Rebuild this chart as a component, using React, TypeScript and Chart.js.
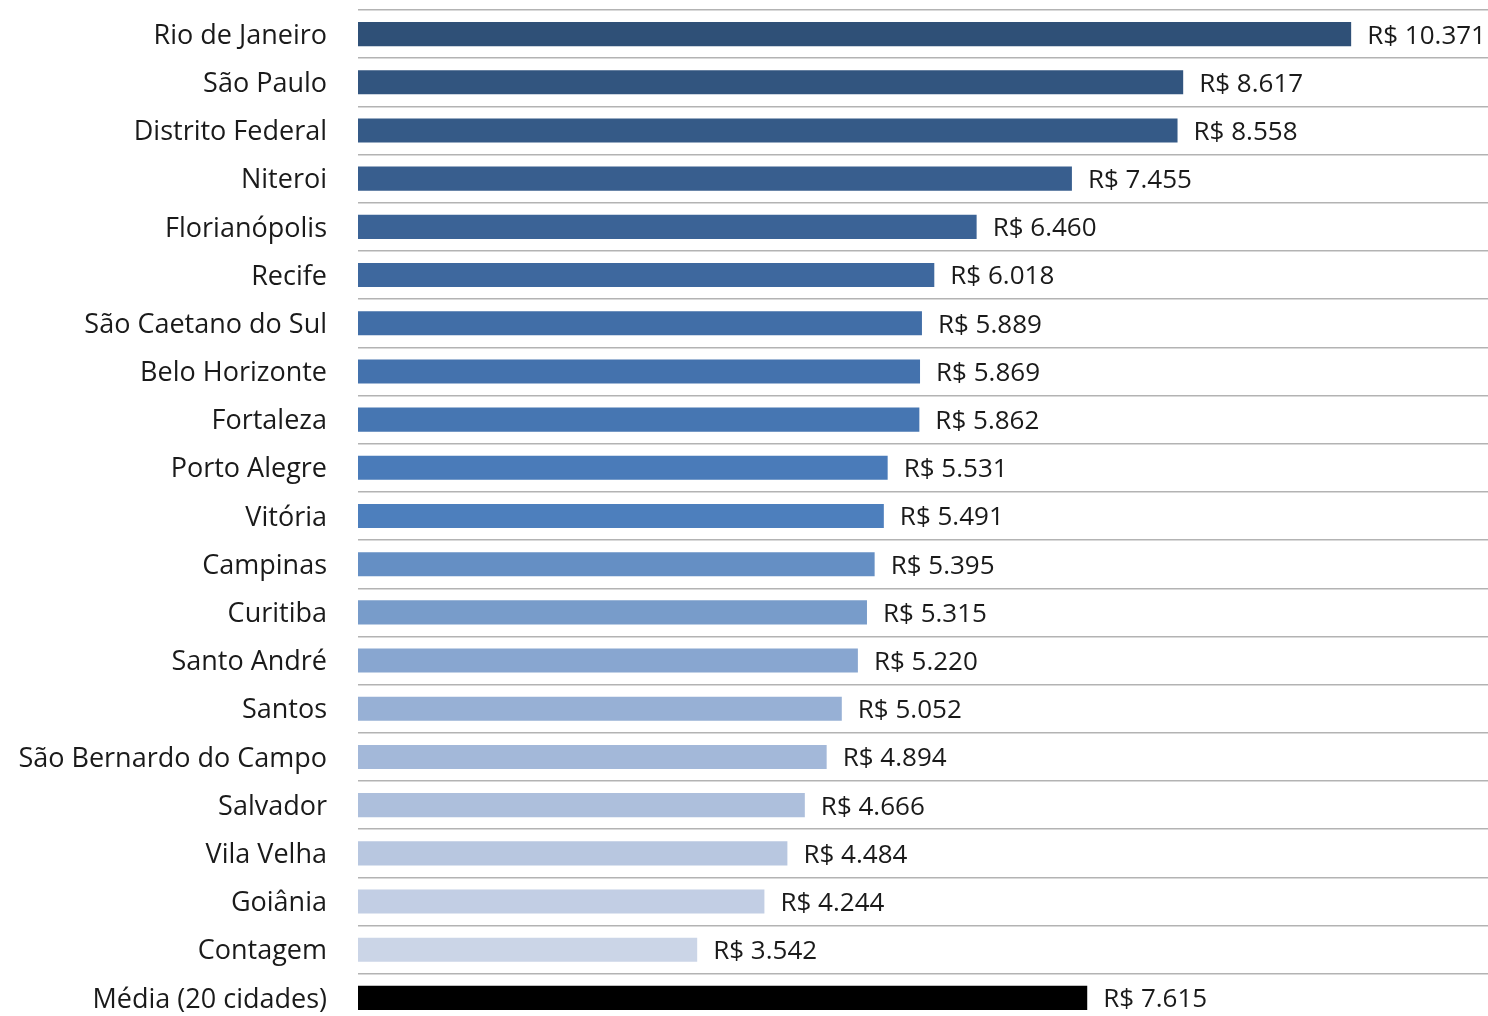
import React, { useEffect, useRef } from "react";
import { Chart, registerables } from "chart.js";

Chart.register(...registerables);

const cities = [
  "Rio de Janeiro",
  "São Paulo",
  "Distrito Federal",
  "Niteroi",
  "Florianópolis",
  "Recife",
  "São Caetano do Sul",
  "Belo Horizonte",
  "Fortaleza",
  "Porto Alegre",
  "Vitória",
  "Campinas",
  "Curitiba",
  "Santo André",
  "Santos",
  "São Bernardo do Campo",
  "Salvador",
  "Vila Velha",
  "Goiânia",
  "Contagem",
  "Média (20 cidades)",
];

const values = [
  10371, 8617, 8558, 7455, 6460, 6018, 5889, 5869, 5862, 5531, 5491, 5395, 5315,
  5220, 5052, 4894, 4666, 4484, 4244, 3542, 7615,
];

const valueLabels = [
  "R$ 10.371",
  "R$ 8.617",
  "R$ 8.558",
  "R$ 7.455",
  "R$ 6.460",
  "R$ 6.018",
  "R$ 5.889",
  "R$ 5.869",
  "R$ 5.862",
  "R$ 5.531",
  "R$ 5.491",
  "R$ 5.395",
  "R$ 5.315",
  "R$ 5.220",
  "R$ 5.052",
  "R$ 4.894",
  "R$ 4.666",
  "R$ 4.484",
  "R$ 4.244",
  "R$ 3.542",
  "R$ 7.615",
];

const barColors = [
  "#2f5077",
  "#32557f",
  "#355a87",
  "#385e8e",
  "#3b6396",
  "#3e689e",
  "#416ea7",
  "#4472ad",
  "#4676b2",
  "#4a7bb9",
  "#4d7fbd",
  "#658fc4",
  "#789cca",
  "#88a6d0",
  "#97b0d5",
  "#a3b8d9",
  "#adbfdc",
  "#b8c7e0",
  "#c2cee4",
  "#cbd5e7",
  "#000000",
];

const FONT = "'Open Sans', 'Noto Sans', sans-serif";
const FONT_SIZE = 27;
const VALUE_FONT_SIZE = 26;

export default function App() {
  const ref = useRef<HTMLCanvasElement | null>(null);

  useEffect(() => {
    if (!ref.current) return;
    const labelPlugin = {
      id: "valueLabels",
      afterDatasetsDraw(chart: any) {
        const ctx = chart.ctx;
        const meta = chart.getDatasetMeta(0);
        ctx.save();
        ctx.font = `${VALUE_FONT_SIZE}px ${FONT}`;
        ctx.fillStyle = "#1a1a1a";
        ctx.textAlign = "left";
        ctx.textBaseline = "middle";
        meta.data.forEach((bar: any, i: number) => {
          ctx.fillText(valueLabels[i], bar.x + 16, bar.y + 2);
        });
        ctx.restore();
      },
    };
    const chart = new Chart(ref.current, {
      type: "bar",
      data: {
        labels: cities,
        datasets: [
          {
            data: values,
            backgroundColor: barColors,
            barPercentage: 0.5,
            categoryPercentage: 1,
          },
        ],
      },
      options: {
        indexAxis: "y",
        animation: false,
        responsive: false,
        maintainAspectRatio: false,
        layout: { padding: { top: 10, bottom: 8, left: 0, right: 0 } },
        plugins: { legend: { display: false }, tooltip: { enabled: false } },
        scales: {
          x: {
            display: false,
            min: 0,
            max: 11800,
          },
          y: {
            afterFit(scale: any) {
              scale.width = 358;
              scale.paddingTop = 0;
              scale.paddingBottom = 0;
            },
            border: { display: false },
            grid: {
              offset: true,
              color: "#b3b3b3",
              lineWidth: 1.5,
              drawTicks: false,
            },
            ticks: {
              padding: 31,
              labelOffset: 2,
              color: "#1a1a1a",
              font: { family: FONT, size: FONT_SIZE },
            },
          },
        },
      },
      plugins: [labelPlugin],
    });
    return () => chart.destroy();
  }, []);

  return (
    <div
      style={{
        position: "fixed",
        left: 0,
        top: 0,
        width: 1488,
        height: 1016,
        overflow: "hidden",
        background: "#fff",
      }}
    >
      <canvas ref={ref} width={1488} height={1030} style={{ width: 1488, height: 1030 }} />
    </div>
  );
}
